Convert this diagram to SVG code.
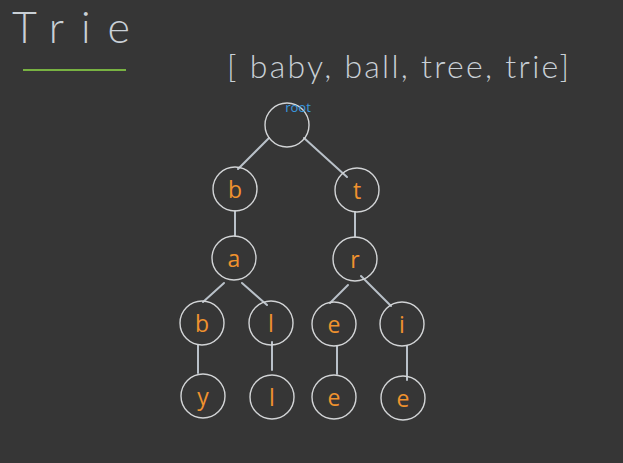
<svg xmlns="http://www.w3.org/2000/svg" width="623" height="463" viewBox="0 0 623 463">
<style>
.bg{fill:#363636}
.hand{font-family:Lato,"Open Sans","Liberation Sans",sans-serif;font-weight:300;fill:#c9d0d6}
.node circle{fill:none;stroke:#d2d4d6;stroke-width:1.4}
.node text{font-family:"Open Sans","Liberation Sans",sans-serif;font-size:23px;fill:#f0922e;text-anchor:middle;dominant-baseline:central}
#edges line{stroke:#b9c1c9;stroke-width:2;stroke-linecap:round}
</style>
<rect class="bg" x="0" y="0" width="623" height="463"/>
<text class="hand" x="12" y="43" font-size="43" textLength="118" lengthAdjust="spacing">Trie</text>
<line x1="23" y1="70" x2="126" y2="70" stroke="#78b242" stroke-width="2.2"/>
<text class="hand" x="227" y="78" font-size="32" textLength="342" lengthAdjust="spacing">[ baby, ball, tree, trie]</text>
<g id="edges">
<line x1="269" y1="138" x2="238" y2="169"/>
<line x1="304" y1="138" x2="347" y2="177"/>
<line x1="235" y1="211" x2="235" y2="236"/>
<line x1="355" y1="212" x2="355" y2="237"/>
<line x1="224" y1="283" x2="203" y2="302"/>
<line x1="242" y1="283" x2="267" y2="305"/>
<line x1="348" y1="285" x2="330" y2="303"/>
<line x1="361" y1="276" x2="391" y2="306"/>
<line x1="198" y1="345" x2="198" y2="373"/>
<line x1="272" y1="342" x2="272" y2="370"/>
<line x1="337" y1="346" x2="337" y2="374"/>
<line x1="407" y1="346" x2="407" y2="380"/>
</g>
<g id="root" class="node"><circle cx="287" cy="125" r="22"/><text x="298" y="107" style="font-size:13px;fill:#3a9be0">root</text></g>
<g id="n_b" class="node"><circle cx="235" cy="189" r="22"/><text x="235" y="189">b</text></g>
<g id="n_t" class="node"><circle cx="357" cy="190" r="22"/><text x="357" y="190">t</text></g>
<g id="n_ba" class="node"><circle cx="234" cy="258" r="22"/><text x="234" y="258">a</text></g>
<g id="n_tr" class="node"><circle cx="355" cy="259" r="22"/><text x="355" y="259">r</text></g>
<g id="n_bab" class="node"><circle cx="202" cy="323" r="22"/><text x="202" y="323">b</text></g>
<g id="n_bal" class="node"><circle cx="271" cy="323" r="22"/><text x="271" y="323">l</text></g>
<g id="n_tre" class="node"><circle cx="334" cy="324" r="22"/><text x="334" y="324">e</text></g>
<g id="n_tri" class="node"><circle cx="402" cy="324" r="22"/><text x="402" y="324">i</text></g>
<g id="n_baby" class="node"><circle cx="203" cy="396" r="22"/><text x="203" y="396">y</text></g>
<g id="n_ball" class="node"><circle cx="272" cy="397" r="22"/><text x="272" y="397">l</text></g>
<g id="n_tree" class="node"><circle cx="334" cy="397" r="22"/><text x="334" y="397">e</text></g>
<g id="n_trie" class="node"><circle cx="403" cy="398" r="22"/><text x="403" y="398">e</text></g>
</svg>
